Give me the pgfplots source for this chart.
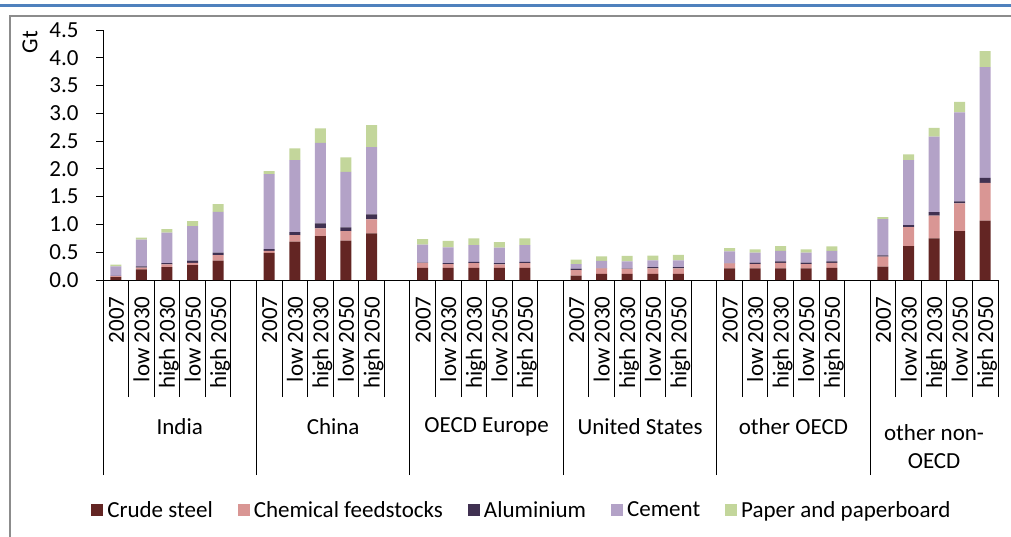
\documentclass[border=0pt]{standalone}
\usepackage{pgfplots}
\pgfplotsset{compat=1.18}
\usepackage{pgfplotstable}
\usepackage{fontspec}
\setmainfont{Carlito}

\definecolor{steel}{HTML}{632523}
\definecolor{chem}{HTML}{D99694}
\definecolor{alu}{HTML}{403151}
\definecolor{cem}{HTML}{B3A2C7}
\definecolor{pap}{HTML}{C3D69B}
\definecolor{framegray}{HTML}{8C8C8C}
\definecolor{topline}{HTML}{4F81BD}

% slot positions: 5 bars per region, one empty slot between regions
\pgfplotstableread{
x steel chem alu cem pap
0 0.05 0.02 0.005 0.17 0.03
1 0.19 0.035 0.02 0.48 0.04
2 0.23 0.05 0.025 0.55 0.06
3 0.27 0.04 0.04 0.62 0.09
4 0.35 0.10 0.045 0.73 0.14
6 0.49 0.036 0.03 1.35 0.054
7 0.69 0.12 0.05 1.30 0.21
8 0.79 0.14 0.09 1.45 0.26
9 0.71 0.17 0.066 1.00 0.26
10 0.84 0.25 0.09 1.21 0.40
12 0.22 0.09 0.005 0.32 0.10
13 0.22 0.066 0.02 0.28 0.12
14 0.22 0.084 0.024 0.30 0.12
15 0.22 0.06 0.024 0.28 0.10
16 0.22 0.084 0.024 0.30 0.12
18 0.08 0.10 0.024 0.084 0.08
19 0.11 0.10 0.005 0.13 0.08
20 0.11 0.09 0.005 0.13 0.10
21 0.11 0.10 0.024 0.12 0.084
22 0.11 0.10 0.024 0.12 0.10
24 0.21 0.09 0.005 0.21 0.06
25 0.21 0.078 0.024 0.18 0.06
26 0.21 0.10 0.024 0.19 0.084
27 0.21 0.078 0.024 0.18 0.06
28 0.22 0.09 0.024 0.19 0.08
30 0.24 0.18 0.024 0.65 0.036
31 0.61 0.34 0.04 1.17 0.10
32 0.75 0.41 0.06 1.36 0.16
33 0.88 0.50 0.036 1.60 0.19
34 1.07 0.68 0.09 1.99 0.29
}\data

\begin{document}
\begin{tikzpicture}[font=\fontsize{23}{28}\selectfont]
\useasboundingbox (0,0) rectangle (1011pt,-536pt);
\fill[topline] (0,-3.5pt) rectangle (1011pt,-7pt);
\draw[framegray, line width=2pt] (10pt,-540pt) -- (10pt,-16pt) -- (1015pt,-16pt);

\begin{axis}[
    at={(103pt,-280pt)}, anchor=south west,
    scale only axis, width=895pt, height=250pt,
    xmin=-0.5, xmax=34.5, ymin=0, ymax=4.5,
    clip=false,
    ybar stacked, bar width=11pt,
    axis lines=left,
    axis line style={-, line width=1pt, black},
    tick align=outside,
    tick style={line width=1pt, black},
    major tick length=7pt,
    minor tick length=117pt,
    ytick={0,0.5,1,1.5,2,2.5,3,3.5,4,4.5},
    yticklabel style={xshift=-14pt, /pgf/number format/.cd, fixed, fixed zerofill, precision=1, assume math mode=true},
    tick label style={font=\fontsize{23}{28}\selectfont},
    xtick={0,...,34},
    xticklabels={2007,low 2030,high 2030,low 2050,high 2050,{},
                 2007,low 2030,high 2030,low 2050,high 2050,{},
                 2007,low 2030,high 2030,low 2050,high 2050,{},
                 2007,low 2030,high 2030,low 2050,high 2050,{},
                 2007,low 2030,high 2030,low 2050,high 2050,{},
                 2007,low 2030,high 2030,low 2050,high 2050},
    xticklabel style={rotate=90, anchor=base east, xshift=-6pt, yshift=-8pt},
    major x tick style={draw=none},
    minor xtick={0.5,1.5,2.5,3.5,4.5,
                 6.5,7.5,8.5,9.5,10.5,
                 12.5,13.5,14.5,15.5,16.5,
                 18.5,19.5,20.5,21.5,22.5,
                 24.5,25.5,26.5,27.5,28.5,
                 30.5,31.5,32.5,33.5,34.5},
    extra x ticks={-0.5,5.5,11.5,17.5,23.5,29.5},
    extra x tick labels={},
    extra x tick style={major tick length=195pt, major x tick style={draw=black, line width=1pt}},
    legend style={at={(0.468,-0.92)}, anchor=center, draw=none, fill=none,
        legend columns=-1, font=\fontsize{23}{28}\selectfont,
        /tikz/every odd column/.append style={column sep=2pt},
        /tikz/every even column/.append style={column sep=23pt}},
    legend image code/.code={\fill[#1] (0pt,-6pt) rectangle (12pt,6pt);},
]
\addplot[fill=steel, draw=none] table[x=x, y=steel] {\data};
\addlegendentry{Crude steel}
\addplot[fill=chem, draw=none] table[x=x, y=chem] {\data};
\addlegendentry{Chemical feedstocks}
\addplot[fill=alu, draw=none] table[x=x, y=alu] {\data};
\addlegendentry{Aluminium}
\addplot[fill=cem, draw=none] table[x=x, y=cem] {\data};
\addlegendentry{Cement}
\addplot[fill=pap, draw=none] table[x=x, y=pap] {\data};
\addlegendentry{Paper and paperboard}

\node[yshift=-147pt] at (axis cs:2.5,0) {India};
\node[yshift=-147pt] at (axis cs:8.5,0) {China};
\node[yshift=-147pt] at (axis cs:14.5,0) {OECD Europe};
\node[yshift=-147pt] at (axis cs:20.5,0) {United States};
\node[yshift=-147pt] at (axis cs:26.5,0) {other OECD};
\node[yshift=-167pt, align=center] at (axis cs:32,0) {other non-\\OECD};
\end{axis}

\node[rotate=90] at (30pt,-42pt) {Gt};
\end{tikzpicture}
\end{document}
